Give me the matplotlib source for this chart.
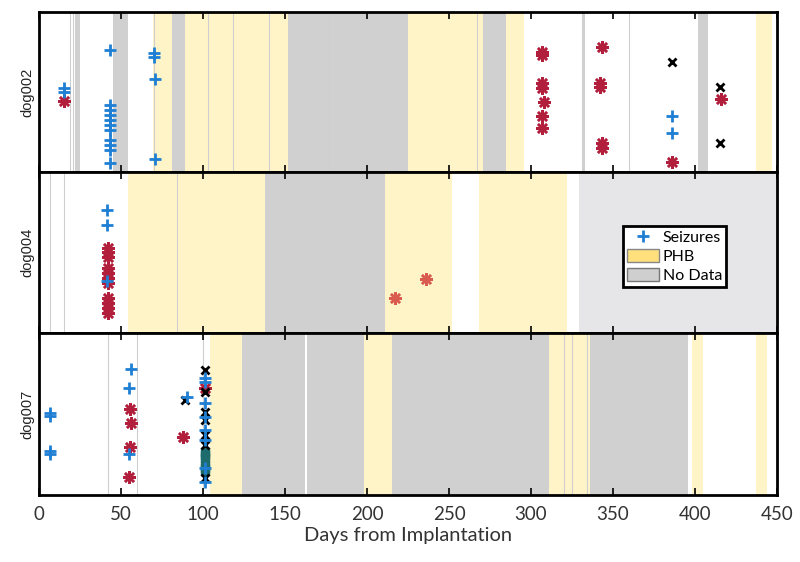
import matplotlib
matplotlib.use('Agg')
import matplotlib.pyplot as plt
from matplotlib.patches import Patch
from matplotlib.lines import Line2D

plt.rcParams['font.family'] = ['Lato', 'DejaVu Sans']

dogs = ['dog002', 'dog004', 'dog007']

# shaded periods (start day, end day)
phb = [
    [(69.5, 81), (89, 152), (225, 271), (285, 296), (437, 447)],
    [(54, 138), (211, 252), (268, 322)],
    [(104, 124), (198, 215), (311, 336), (398, 405), (437, 444)],
]
nodata = [
    [(22, 25), (45, 54), (81, 89), (152, 225), (271, 285), (331, 333), (402, 408)],
    [(138, 211)],
    [(124, 162), (163.5, 198), (215, 311), (336, 396)],
]
nodata_light = [[], [(329, 450)], []]
thin_lines = [
    [19, 21, 70, 103, 118, 140, 176, 267, 360],
    [7, 15, 84],
    [42, 60, 100, 320, 325, 334],
]

# seizures: day, hour of day
seiz_day = [
    [15, 15, 43, 43, 43, 43, 43, 43, 43, 43, 43, 43, 43, 70, 70, 71, 71, 386, 386],
    [41.5, 41.5, 41.5],
    [6.7, 6.7, 6.7, 6.7, 56, 55, 55, 90, 101, 101, 101, 101, 101, 101, 101, 101],
]
seiz_hr = [
    [11.4, 12.0, 5.7, 14.0, 14.7, 15.5, 16.2, 17.0, 17.7, 19.2, 20.0, 20.7, 22.7, 6.2, 6.8, 10.1, 22.1, 15.6, 18.2],
    [5.7, 7.9, 16.2],
    [11.9, 12.3, 17.5, 17.9, 5.3, 8.1, 17.9, 9.5, 6.7, 7.3, 10.4, 12.4, 14.4, 15.9, 20.0, 22.1],
]
# red asterisks
ast_day = [
    [15, 307, 307, 307, 307, 308, 307, 307, 343, 342, 342, 343, 343, 386, 416],
    [42, 42, 42, 42, 42, 42, 42, 42, 42, 42, 42],
    [55.5, 56, 55.5, 55, 88, 101],
]
ast_hr = [
    [13.4, 6.0, 6.5, 10.7, 11.4, 13.5, 15.6, 17.4, 5.3, 10.7, 11.3, 19.7, 20.4, 22.5, 13.1],
    [11.3, 11.9, 12.7, 14.3, 15.1, 15.8, 16.5, 18.8, 19.5, 20.3, 21.0],
    [11.3, 13.3, 16.9, 21.3, 15.4, 8.1],
]
# lighter asterisks (dog004 only)
ast2_day = [[], [217, 236], []]
ast2_hr = [[], [18.8, 16.0], []]
# black crosses
x_day = [
    [386, 415, 415],
    [],
    [89, 101, 101, 101, 101, 101, 101, 101],
]
x_hr = [
    [7.5, 11.3, 19.7],
    [],
    [9.9, 5.5, 8.7, 11.7, 12.9, 15.1, 16.6, 21.5],
]
# teal squares (dog007)
sq_day = [[], [], [101, 101, 101, 101, 101, 101]]
sq_hr = [[], [], [17.6, 18.1, 18.5, 19.6, 20.0, 20.4]]

c_blue = '#1f7fd4'
c_red = '#b21f3c'
c_red2 = '#d95a4e'
c_yel = '#fff4c8'
c_gray = '#d0d0d0'
c_gray_l = '#e6e6e8'

fig = plt.figure(figsize=(8, 5.62), dpi=100)
left, right = 39 / 800, 777 / 800
tops = [12, 172, 333, 495]
axes = []
for i in range(3):
    y0 = 1 - tops[i + 1] / 562
    h = (tops[i + 1] - tops[i]) / 562
    ax = fig.add_axes([left, y0, right - left, h])
    axes.append(ax)

    for s, e in phb[i]:
        ax.axvspan(s, e, color=c_yel, lw=0, zorder=0)
    for s, e in nodata[i]:
        ax.axvspan(s, e, color=c_gray, lw=0, zorder=0)
    for s, e in nodata_light[i]:
        ax.axvspan(s, e, color=c_gray_l, lw=0, zorder=0)
    for d in thin_lines[i]:
        ax.axvline(d, color='#cfcfcf', lw=0.8, zorder=0.5)

    ax.plot(sq_day[i], sq_hr[i], ls='none', marker='s', ms=6, color='#1e6b6e', zorder=3)
    ax.plot(ast_day[i], ast_hr[i], ls='none', marker=(8, 2, 0), ms=9, mew=1.8, color=c_red, zorder=3)
    ax.plot(ast2_day[i], ast2_hr[i], ls='none', marker=(8, 2, 0), ms=9, mew=1.8, color=c_red2, zorder=3)
    ax.plot(x_day[i], x_hr[i], ls='none', marker='x', ms=6, mew=2, color='black', zorder=4)
    ax.plot(seiz_day[i], seiz_hr[i], ls='none', marker='+', ms=9, mew=2, color=c_blue, zorder=4)

    ax.set_xlim(0, 450)
    ax.set_ylim(24, 0)
    ax.set_yticks([])
    ax.set_xticks(range(0, 451, 50))
    ax.tick_params(axis='x', direction='in', top=True, length=5, width=1.2, labelsize=13.5, pad=8,
                   labelcolor='#333333')
    if i < 2:
        ax.tick_params(axis='x', labelbottom=False)
    ax.set_ylabel(dogs[i], fontsize=10.5, labelpad=3, family=['Liberation Sans', 'DejaVu Sans'],
                  color='#222222')
    for sp in ax.spines.values():
        sp.set_linewidth(2)
        sp.set_zorder(5)

axes[2].set_xlabel('Days from Implantation', fontsize=14.5, labelpad=3, color='#333333')

handles = [
    Line2D([], [], ls='none', marker='+', ms=8, mew=2, color=c_blue, label='Seizures'),
    Patch(facecolor='#ffe07c', edgecolor='#888888', label='PHB'),
    Patch(facecolor='#cfcfcf', edgecolor='#777777', label='No Data'),
]
leg = axes[1].legend(handles=handles, loc='upper left', bbox_to_anchor=(0.791, 0.665),
                     fontsize=11.5, frameon=True, fancybox=False, framealpha=1,
                     handlelength=2.0, handleheight=0.9, handletextpad=0.25, labelspacing=0.25,
                     borderpad=0.25, borderaxespad=0)
leg.get_frame().set_edgecolor('black')
leg.get_frame().set_linewidth(2)

fig.savefig('out.png', dpi=100)
